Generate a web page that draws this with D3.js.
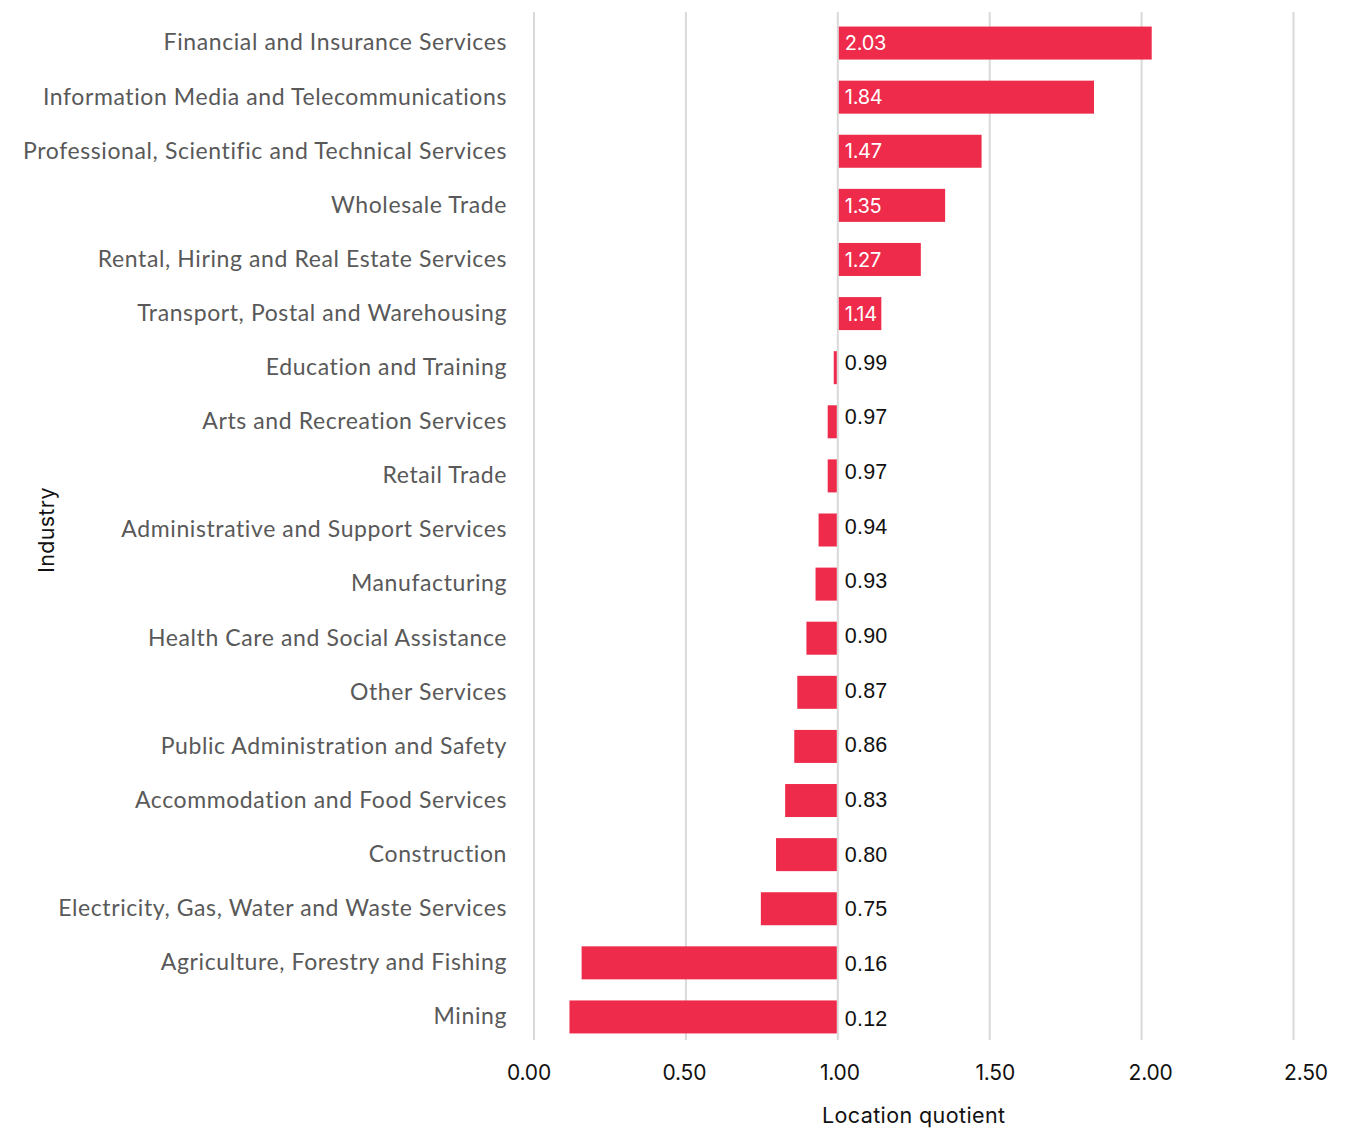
<!DOCTYPE html>
<html>
<head>
<meta charset="utf-8">
<script src="https://cdn.jsdelivr.net/npm/d3@7"></script>
<style>
  html, body { margin: 0; padding: 0; background: #fff; }
  svg { display: block; }
</style>
</head>
<body>
<svg id="chart" width="1368" height="1131"></svg>
<script>
// Industry location quotients, sorted high to low
const industries = [
  "Financial and Insurance Services",
  "Information Media and Telecommunications",
  "Professional, Scientific and Technical Services",
  "Wholesale Trade",
  "Rental, Hiring and Real Estate Services",
  "Transport, Postal and Warehousing",
  "Education and Training",
  "Arts and Recreation Services",
  "Retail Trade",
  "Administrative and Support Services",
  "Manufacturing",
  "Health Care and Social Assistance",
  "Other Services",
  "Public Administration and Safety",
  "Accommodation and Food Services",
  "Construction",
  "Electricity, Gas, Water and Waste Services",
  "Agriculture, Forestry and Fishing",
  "Mining"
];
const quotients = [2.03, 1.84, 1.47, 1.35, 1.27, 1.14, 0.99, 0.97, 0.97, 0.94, 0.93, 0.90, 0.87, 0.86, 0.83, 0.80, 0.75, 0.16, 0.12];
const xTicks = [0, 0.5, 1.0, 1.5, 2.0, 2.5];
const baseline = 1.0;

const data = industries.map((name, i) => ({ name, value: quotients[i] }));

const svg = d3.select("#chart");
const plot = { left: 534, right: 1293.5, top: 12, bottom: 1040 };

const x = d3.scaleLinear().domain([0, 2.5]).range([plot.left, plot.right]);
// tick labels sit on a slightly wider spread than the gridlines
const xLabel = d3.scaleLinear().domain([0, 2.5]).range([528.5, 1305.5]);
const y = d3.scaleBand().domain(industries).range([plot.top + 4, plot.bottom + 4])
  .paddingInner(0.39).paddingOuter(0.195);
// dark value labels use their own, slightly longer vertical run
const yLabel = d3.scalePoint().domain(industries).range([34, 1018]);

const barColor = "#ee2b4b";
const numFont = "Inter, 'Noto Sans', sans-serif";

// vertical gridlines
svg.append("g").selectAll("line").data(xTicks).join("line")
  .attr("x1", d => x(d)).attr("x2", d => x(d))
  .attr("y1", plot.top).attr("y2", plot.bottom)
  .attr("stroke", "#d9d9d9").attr("stroke-width", 2);

// bars drawn from the baseline of 1.00
svg.append("g").selectAll("rect").data(data).join("rect")
  .attr("x", d => x(Math.min(d.value, baseline)) + (d.value < baseline ? -1 : 1))
  .attr("y", d => y(d.name))
  .attr("width", d => Math.abs(x(d.value) - x(baseline)))
  .attr("height", y.bandwidth())
  .attr("fill", barColor);

// value labels: white inside bars above 1.00, dark beside the baseline below it
svg.append("g").selectAll("text").data(data).join("text")
  .attr("x", x(baseline) + 7)
  .attr("y", d => d.value > baseline ? y(d.name) + y.bandwidth() / 2 : yLabel(d.name))
  .attr("dy", "0.36em")
  .attr("fill", d => d.value > baseline ? "#ffffff" : "#111111")
  .attr("font-family", d => d.value > baseline ? numFont : "'Liberation Sans', Arial, sans-serif")
  .attr("font-size", d => d.value > baseline ? 20 : 21.5)
  .attr("letter-spacing", d => d.value > baseline ? "-0.3px" : "0.2px")
  .text(d => d3.format(".2f")(d.value));

// category axis labels
const yAxis = d3.axisLeft(y).tickSize(0).tickPadding(27);
const gy = svg.append("g").attr("transform", `translate(${plot.left},0)`).call(yAxis);
gy.select(".domain").remove();
gy.selectAll("text")
  .attr("font-family", "Lato, 'Open Sans', sans-serif")
  .attr("font-size", 23)
  .attr("fill", "#595959")
  .attr("letter-spacing", "0.6px");

// value axis labels
const xAxis = d3.axisBottom(xLabel).tickValues(xTicks).tickSize(0).tickPadding(25)
  .tickFormat(d3.format(".2f"));
const gx = svg.append("g").attr("transform", `translate(0,${plot.bottom})`).call(xAxis);
gx.select(".domain").remove();
gx.selectAll("text")
  .attr("font-family", numFont)
  .attr("font-size", 21)
  .attr("fill", "#111111")
  .attr("letter-spacing", "-0.2px");

// axis titles
svg.append("text")
  .attr("x", (plot.left + plot.right) / 2).attr("y", 1123)
  .attr("text-anchor", "middle")
  .attr("font-family", numFont).attr("font-size", 21.5).attr("fill", "#111111")
  .attr("letter-spacing", "0.4px")
  .text("Location quotient");

svg.append("text")
  .attr("transform", `translate(54,${(plot.top + plot.bottom) / 2 + 4}) rotate(-90)`)
  .attr("text-anchor", "middle")
  .attr("font-family", numFont).attr("font-size", 21.5).attr("fill", "#111111")
  .attr("letter-spacing", "0.3px")
  .text("Industry");
</script>
</body>
</html>
